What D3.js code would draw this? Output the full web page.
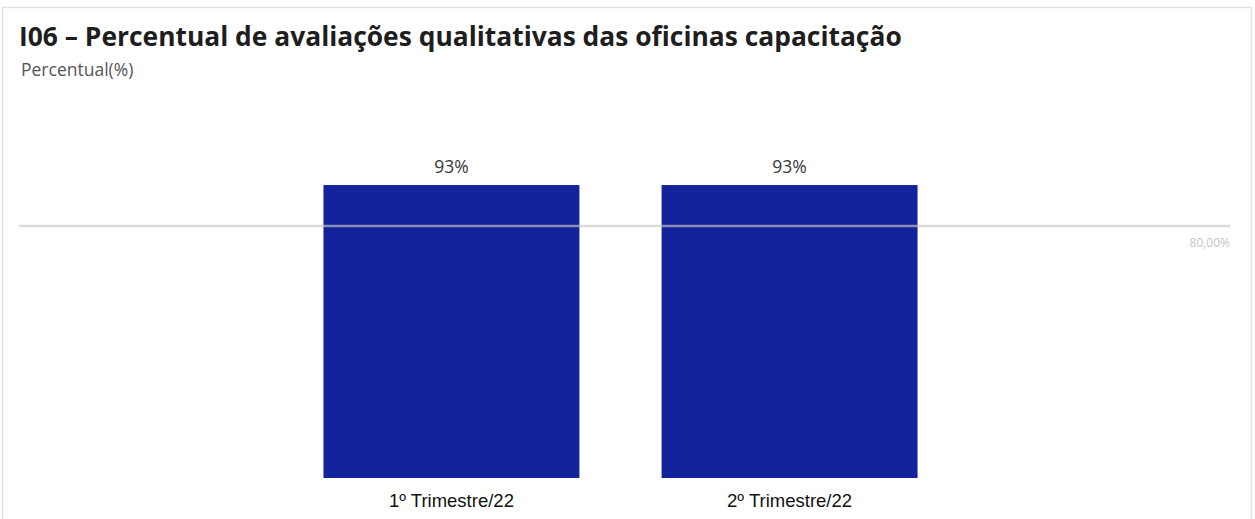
<!DOCTYPE html>
<html>
<head>
<meta charset="utf-8">
<script src="https://cdn.jsdelivr.net/npm/d3@7"></script>
<style>
  html, body { margin: 0; padding: 0; background: #fff; }
  svg { display: block; }
</style>
</head>
<body>
<script>
// Quarterly share of qualitative workshop evaluations
const categories = ["1º Trimestre/22", "2º Trimestre/22"];
const values = [93, 93];
const valueLabels = ["93%", "93%"];
const targetValue = 80;
const targetLabel = "80,00%";
const title = "I06 – Percentual de avaliações qualitativas das oficinas capacitação";
const subtitle = "Percentual(%)";

const W = 1255, H = 519;
const svg = d3.select("body").append("svg").attr("width", W).attr("height", H);

// panel frame (open at the bottom)
svg.append("path")
  .attr("d", `M2.5,${H} V7.5 H1251.5 V${H}`)
  .attr("fill", "none").attr("stroke", "#e2e2e2").attr("stroke-width", 1.5);

svg.append("text")
  .attr("x", 19).attr("y", 46)
  .attr("font-family", "'Open Sans', sans-serif").attr("font-weight", 700)
  .attr("font-size", 26.4).attr("fill", "#1e1e1e")
  .text(title);

svg.append("text")
  .attr("x", 21).attr("y", 76)
  .attr("font-family", "'Open Sans', sans-serif")
  .attr("font-size", 17.5).attr("fill", "#555")
  .text(subtitle);

const x = d3.scaleBand().domain(categories).range([9, 1232])
  .paddingInner(0.243).paddingOuter(0.93);
const y = d3.scaleLinear().domain([0, 100]).range([478, 163]);

// bars
svg.selectAll("rect.bar").data(values).join("rect")
  .attr("class", "bar")
  .attr("x", (d, i) => x(categories[i]))
  .attr("width", x.bandwidth())
  .attr("y", d => y(d))
  .attr("height", d => y(0) - y(d))
  .attr("fill", "#13239b");

// target line, drawn semi-transparent over the bars
svg.append("line")
  .attr("x1", 19).attr("x2", 1230)
  .attr("y1", y(targetValue)).attr("y2", y(targetValue))
  .attr("stroke", "#c8c8c8").attr("stroke-opacity", 0.65).attr("stroke-width", 2.5);

svg.append("text")
  .attr("x", 1230).attr("y", y(targetValue) + 21)
  .attr("text-anchor", "end")
  .attr("font-family", "'Open Sans', sans-serif")
  .attr("font-size", 12).attr("fill", "#c4c4c4")
  .text(targetLabel);

// value labels
svg.selectAll("text.val").data(values).join("text")
  .attr("class", "val")
  .attr("x", (d, i) => x(categories[i]) + x.bandwidth() / 2)
  .attr("y", d => y(d) - 12)
  .attr("text-anchor", "middle")
  .attr("font-family", "'Open Sans', sans-serif")
  .attr("font-size", 17.5).attr("fill", "#3a3a3a")
  .text((d, i) => valueLabels[i]);

// category axis labels
const xAxis = d3.axisBottom(x).tickSize(0).tickPadding(0);
const gx = svg.append("g").attr("transform", `translate(0,${y(0)})`).call(xAxis);
gx.select(".domain").remove();
gx.selectAll("text")
  .attr("dy", 0).attr("y", 29)
  .attr("font-family", "'Liberation Sans', sans-serif")
  .attr("font-size", 18.5).attr("fill", "#111");
</script>
</body>
</html>
